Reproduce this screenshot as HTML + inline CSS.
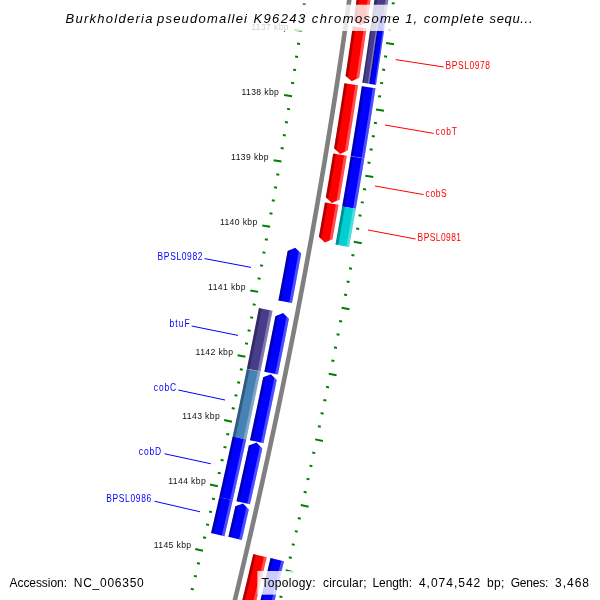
<!DOCTYPE html>
<html><head><meta charset="utf-8"><title>Burkholderia pseudomallei K96243 chromosome 1</title>
<style>html,body{margin:0;padding:0;background:#fff;overflow:hidden}svg{display:block}</style></head>
<body><svg width="600" height="600" viewBox="0 0 600 600">
<rect width="600" height="600" fill="#fff"/>
<polyline points="350.54,-9.26 350.08,-5.96 349.63,-2.66 349.17,0.64 348.71,3.94 348.25,7.24 347.78,10.54 347.32,13.84 346.85,17.14 346.38,20.44 345.91,23.74 345.43,27.04 344.96,30.33 344.48,33.63 344.00,36.93 343.52,40.23 343.04,43.53 342.56,46.82 342.07,50.12 341.58,53.42 341.09,56.71 340.60,60.01 340.11,63.30 339.62,66.60 339.12,69.90 338.62,73.19 338.12,76.49 337.62,79.78 337.11,83.07 336.61,86.37 336.10,89.66 335.59,92.96 335.08,96.25 334.57,99.54 334.05,102.83 333.54,106.13 333.02,109.42 332.50,112.71 331.98,116.00 331.45,119.29 330.93,122.58 330.40,125.87 329.87,129.16 329.34,132.45 328.81,135.74 328.28,139.03 327.74,142.32 327.20,145.61 326.66,148.90 326.12,152.19 325.58,155.48 325.03,158.76 324.48,162.05 323.94,165.34 323.39,168.63 322.83,171.91 322.28,175.20 321.72,178.48 321.17,181.77 320.61,185.05 320.04,188.34 319.48,191.62 318.92,194.91 318.35,198.19 317.78,201.48 317.21,204.76 316.64,208.04 316.07,211.33 315.49,214.61 314.91,217.89 314.33,221.17 313.75,224.45 313.17,227.73 312.58,231.01 312.00,234.30 311.41,237.58 310.82,240.86 310.23,244.14 309.63,247.41 309.04,250.69 308.44,253.97 307.84,257.25 307.24,260.53 306.64,263.81 306.04,267.08 305.43,270.36 304.82,273.64 304.21,276.91 303.60,280.19 302.99,283.46 302.37,286.74 301.76,290.01 301.14,293.29 300.52,296.56 299.89,299.84 299.27,303.11 298.64,306.38 298.02,309.66 297.39,312.93 296.76,316.20 296.12,319.47 295.49,322.75 294.85,326.02 294.21,329.29 293.57,332.56 292.93,335.83 292.29,339.10 291.64,342.37 291.00,345.64 290.35,348.91 289.70,352.17 289.04,355.44 288.39,358.71 287.73,361.98 287.08,365.24 286.42,368.51 285.75,371.78 285.09,375.04 284.43,378.31 283.76,381.57 283.09,384.84 282.42,388.10 281.75,391.37 281.07,394.63 280.40,397.89 279.72,401.16 279.04,404.42 278.36,407.68 277.68,410.94 276.99,414.20 276.31,417.47 275.62,420.73 274.93,423.99 274.24,427.25 273.54,430.51 272.85,433.76 272.15,437.02 271.45,440.28 270.75,443.54 270.05,446.80 269.34,450.06 268.64,453.31 267.93,456.57 267.22,459.82 266.51,463.08 265.80,466.34 265.08,469.59 264.36,472.85 263.65,476.10 262.93,479.35 262.20,482.61 261.48,485.86 260.75,489.11 260.03,492.36 259.30,495.62 258.57,498.87 257.83,502.12 257.10,505.37 256.36,508.62 255.63,511.87 254.89,515.12 254.14,518.37 253.40,521.62 252.66,524.86 251.91,528.11 251.16,531.36 250.41,534.61 249.66,537.85 248.90,541.10 248.15,544.34 247.39,547.59 246.63,550.83 245.87,554.08 245.11,557.32 244.34,560.57 243.58,563.81 242.81,567.05 242.04,570.30 241.27,573.54 240.49,576.78 239.72,580.02 238.94,583.26 238.16,586.50 237.38,589.74 236.60,592.98 235.81,596.22 235.03,599.46 234.24,602.70 233.45,605.93 232.66,609.17 231.87,612.41 231.07,615.64 230.28,618.88" fill="none" stroke="#808080" stroke-width="4.6"/>
<polygon points="357.67,-8.28 357.18,-4.74 356.69,-1.19 356.20,2.35 355.70,5.89 355.21,9.44 354.71,12.98 354.21,16.52 353.70,20.07 359.88,25.60 367.37,22.01 367.87,18.46 368.37,14.91 368.87,11.36 369.37,7.81 369.87,4.25 370.36,0.70 370.85,-2.85 371.34,-6.40" fill="#ff0000" />
<polygon points="357.67,-8.28 357.18,-4.74 356.69,-1.19 356.20,2.35 355.70,5.89 355.21,9.44 354.71,12.98 354.21,16.52 353.70,20.07 356.18,22.28 356.65,18.93 357.13,15.57 357.60,12.22 358.07,8.87 358.54,5.51 359.01,2.16 359.48,-1.20 359.94,-4.55 360.41,-7.91" fill="#000" fill-opacity="0.3"/>
<polygon points="368.61,-6.78 368.15,-3.42 367.68,-0.06 367.21,3.30 366.75,6.66 366.27,10.02 365.80,13.38 365.33,16.73 364.85,20.09 364.37,23.45 367.37,22.01 367.87,18.46 368.37,14.91 368.87,11.36 369.37,7.81 369.87,4.25 370.36,0.70 370.85,-2.85 371.34,-6.40" fill="#fff" fill-opacity="0.3"/>
<polygon points="352.83,26.21 352.35,29.51 351.88,32.82 351.40,36.12 350.92,39.42 350.44,42.72 349.95,46.02 349.47,49.32 348.98,52.62 348.49,55.92 348.00,59.22 347.51,62.52 347.01,65.82 346.52,69.12 346.02,72.42 345.52,75.72 351.65,81.31 359.16,77.79 359.66,74.49 360.16,71.18 360.66,67.87 361.16,64.56 361.65,61.26 362.14,57.95 362.63,54.64 363.12,51.33 363.61,48.03 364.09,44.72 364.57,41.41 365.05,38.10 365.53,34.79 366.01,31.48 366.49,28.17" fill="#ff0000" />
<polygon points="352.83,26.21 352.35,29.51 351.88,32.82 351.40,36.12 350.92,39.42 350.44,42.72 349.95,46.02 349.47,49.32 348.98,52.62 348.49,55.92 348.00,59.22 347.51,62.52 347.01,65.82 346.52,69.12 346.02,72.42 345.52,75.72 347.97,77.96 348.49,74.54 349.01,71.11 349.52,67.69 350.04,64.27 350.55,60.85 351.06,57.42 351.57,54.00 352.07,50.58 352.58,47.15 353.08,43.73 353.58,40.30 354.08,36.88 354.57,33.45 355.07,30.03 355.56,26.60" fill="#000" fill-opacity="0.3"/>
<polygon points="363.75,27.78 363.26,31.21 362.77,34.64 362.27,38.07 361.77,41.50 361.27,44.93 360.77,48.35 360.26,51.78 359.76,55.21 359.25,58.64 358.74,62.07 358.23,65.49 357.71,68.92 357.20,72.35 356.68,75.78 356.16,79.20 359.16,77.79 359.66,74.49 360.16,71.18 360.66,67.87 361.16,64.56 361.65,61.26 362.14,57.95 362.63,54.64 363.12,51.33 363.61,48.03 364.09,44.72 364.57,41.41 365.05,38.10 365.53,34.79 366.01,31.48 366.49,28.17" fill="#fff" fill-opacity="0.3"/>
<polygon points="344.37,83.24 343.85,86.67 343.32,90.10 342.79,93.53 342.26,96.96 341.72,100.39 341.19,103.82 340.65,107.24 340.11,110.67 339.57,114.10 339.03,117.53 338.48,120.95 337.93,124.38 337.38,127.81 336.83,131.23 336.28,134.66 335.72,138.08 335.17,141.51 334.61,144.93 334.05,148.36 340.11,154.02 347.67,150.59 348.23,147.16 348.79,143.73 349.35,140.29 349.90,136.86 350.46,133.43 351.01,129.99 351.56,126.56 352.11,123.13 352.66,119.69 353.20,116.26 353.74,112.82 354.28,109.39 354.82,105.95 355.36,102.51 355.89,99.08 356.43,95.64 356.96,92.20 357.49,88.77 358.01,85.33" fill="#ff0000" />
<polygon points="344.37,83.24 343.85,86.67 343.32,90.10 342.79,93.53 342.26,96.96 341.72,100.39 341.19,103.82 340.65,107.24 340.11,110.67 339.57,114.10 339.03,117.53 338.48,120.95 337.93,124.38 337.38,127.81 336.83,131.23 336.28,134.66 335.72,138.08 335.17,141.51 334.61,144.93 334.05,148.36 336.47,150.62 337.02,147.28 337.57,143.93 338.11,140.58 338.66,137.24 339.20,133.89 339.74,130.54 340.28,127.20 340.81,123.85 341.35,120.50 341.88,117.15 342.41,113.81 342.94,110.46 343.47,107.11 343.99,103.76 344.51,100.41 345.03,97.06 345.55,93.71 346.07,90.36 346.59,87.01 347.10,83.66" fill="#000" fill-opacity="0.3"/>
<polygon points="355.29,84.91 354.77,88.27 354.25,91.62 353.74,94.98 353.22,98.33 352.69,101.69 352.17,105.04 351.65,108.39 351.12,111.75 350.59,115.10 350.06,118.45 349.52,121.81 348.99,125.16 348.45,128.51 347.91,131.86 347.37,135.21 346.83,138.56 346.29,141.91 345.74,145.26 345.19,148.61 344.64,151.96 347.67,150.59 348.23,147.16 348.79,143.73 349.35,140.29 349.90,136.86 350.46,133.43 351.01,129.99 351.56,126.56 352.11,123.13 352.66,119.69 353.20,116.26 353.74,112.82 354.28,109.39 354.82,105.95 355.36,102.51 355.89,99.08 356.43,95.64 356.96,92.20 357.49,88.77 358.01,85.33" fill="#fff" fill-opacity="0.3"/>
<polygon points="333.19,153.56 332.63,156.93 332.08,160.29 331.52,163.66 330.95,167.03 330.39,170.39 329.82,173.76 329.26,177.13 328.69,180.49 328.11,183.86 327.54,187.22 326.96,190.59 326.39,193.95 325.81,197.31 331.82,203.03 339.41,199.66 339.99,196.29 340.57,192.92 341.14,189.54 341.72,186.17 342.29,182.80 342.86,179.43 343.43,176.05 344.00,172.68 344.56,169.30 345.13,165.93 345.69,162.55 346.25,159.18 346.81,155.80" fill="#ff0000" />
<polygon points="333.19,153.56 332.63,156.93 332.08,160.29 331.52,163.66 330.95,167.03 330.39,170.39 329.82,173.76 329.26,177.13 328.69,180.49 328.11,183.86 327.54,187.22 326.96,190.59 326.39,193.95 325.81,197.31 328.21,199.60 328.82,196.09 329.42,192.59 330.02,189.08 330.62,185.58 331.22,182.07 331.81,178.56 332.40,175.06 332.99,171.55 333.58,168.04 334.17,164.53 334.75,161.02 335.33,157.52 335.91,154.01" fill="#000" fill-opacity="0.3"/>
<polygon points="344.08,155.36 343.50,158.87 342.92,162.38 342.34,165.90 341.75,169.41 341.16,172.92 340.57,176.43 339.98,179.95 339.38,183.46 338.78,186.97 338.18,190.48 337.58,193.99 336.98,197.50 336.37,201.01 339.41,199.66 339.99,196.29 340.57,192.92 341.14,189.54 341.72,186.17 342.29,182.80 342.86,179.43 343.43,176.05 344.00,172.68 344.56,169.30 345.13,165.93 345.69,162.55 346.25,159.18 346.81,155.80" fill="#fff" fill-opacity="0.3"/>
<polygon points="324.93,202.38 324.33,205.82 323.73,209.27 323.13,212.71 322.53,216.16 321.92,219.60 321.31,223.04 320.70,226.49 320.09,229.93 319.48,233.37 318.86,236.81 324.84,242.57 332.45,239.25 333.06,235.80 333.68,232.35 334.29,228.90 334.90,225.45 335.51,221.99 336.12,218.54 336.73,215.09 337.33,211.64 337.93,208.19 338.53,204.73" fill="#ff0000" />
<polygon points="324.93,202.38 324.33,205.82 323.73,209.27 323.13,212.71 322.53,216.16 321.92,219.60 321.31,223.04 320.70,226.49 320.09,229.93 319.48,233.37 318.86,236.81 321.25,239.11 321.84,235.82 322.43,232.52 323.02,229.23 323.61,225.93 324.19,222.63 324.77,219.34 325.35,216.04 325.93,212.74 326.51,209.44 327.08,206.15 327.65,202.85" fill="#000" fill-opacity="0.3"/>
<polygon points="335.81,204.26 335.24,207.57 334.66,210.87 334.08,214.17 333.51,217.47 332.93,220.77 332.34,224.07 331.76,227.38 331.17,230.68 330.58,233.98 329.99,237.28 329.40,240.58 332.45,239.25 333.06,235.80 333.68,232.35 334.29,228.90 334.90,225.45 335.51,221.99 336.12,218.54 336.73,215.09 337.33,211.64 337.93,208.19 338.53,204.73" fill="#fff" fill-opacity="0.3"/>
<polygon points="253.27,554.04 252.51,557.30 251.74,560.57 250.97,563.84 250.19,567.11 249.42,570.37 248.64,573.64 247.86,576.90 247.08,580.17 246.30,583.43 245.52,586.70 244.73,589.96 243.95,593.22 243.16,596.49 242.37,599.75 241.57,603.01 240.78,606.27 239.98,609.53 239.19,612.79 238.39,616.05 237.58,619.31 236.78,622.57 235.98,625.83 235.17,629.09 240.76,635.22 248.56,632.41 249.37,629.14 250.18,625.88 250.98,622.61 251.79,619.34 252.59,616.08 253.39,612.81 254.19,609.54 254.98,606.27 255.78,603.00 256.57,599.73 257.36,596.46 258.15,593.19 258.94,589.92 259.72,586.65 260.51,583.38 261.29,580.11 262.07,576.83 262.85,573.56 263.62,570.29 264.40,567.01 265.17,563.74 265.94,560.46 266.71,557.19" fill="#ff0000" />
<polygon points="253.27,554.04 252.51,557.30 251.74,560.57 250.97,563.84 250.19,567.11 249.42,570.37 248.64,573.64 247.86,576.90 247.08,580.17 246.30,583.43 245.52,586.70 244.73,589.96 243.95,593.22 243.16,596.49 242.37,599.75 241.57,603.01 240.78,606.27 239.98,609.53 239.19,612.79 238.39,616.05 237.58,619.31 236.78,622.57 235.98,625.83 235.17,629.09 237.40,631.54 238.23,628.20 239.06,624.87 239.88,621.53 240.70,618.19 241.52,614.85 242.34,611.51 243.16,608.17 243.97,604.83 244.78,601.49 245.59,598.15 246.40,594.81 247.21,591.46 248.02,588.12 248.82,584.78 249.62,581.43 250.42,578.09 251.22,574.74 252.01,571.40 252.81,568.05 253.60,564.71 254.39,561.36 255.18,558.01 255.96,554.67" fill="#000" fill-opacity="0.3"/>
<polygon points="264.02,556.56 263.24,559.91 262.45,563.26 261.66,566.61 260.86,569.96 260.07,573.31 259.27,576.66 258.47,580.01 257.67,583.36 256.87,586.71 256.07,590.06 255.26,593.40 254.45,596.75 253.64,600.10 252.83,603.44 252.02,606.79 251.20,610.13 250.38,613.48 249.56,616.82 248.74,620.17 247.92,623.51 247.10,626.85 246.27,630.19 245.44,633.54 248.56,632.41 249.37,629.14 250.18,625.88 250.98,622.61 251.79,619.34 252.59,616.08 253.39,612.81 254.19,609.54 254.98,606.27 255.78,603.00 256.57,599.73 257.36,596.46 258.15,593.19 258.94,589.92 259.72,586.65 260.51,583.38 261.29,580.11 262.07,576.83 262.85,573.56 263.62,570.29 264.40,567.01 265.17,563.74 265.94,560.46 266.71,557.19" fill="#fff" fill-opacity="0.3"/>
<polygon points="375.21,-5.87 374.66,-1.89 374.11,2.08 373.55,6.06 373.00,10.04 372.44,14.01 386.10,15.94 386.66,11.95 387.22,7.97 387.78,3.98 388.33,-0.00 388.88,-3.99" fill="#483d8b" />
<polygon points="375.21,-5.87 374.66,-1.89 374.11,2.08 373.55,6.06 373.00,10.04 372.44,14.01 375.17,14.40 375.73,10.42 376.29,6.44 376.84,2.46 377.39,-1.52 377.94,-5.49" fill="#000" fill-opacity="0.3"/>
<polygon points="386.14,-4.37 385.59,-0.38 385.04,3.60 384.49,7.59 383.93,11.57 383.37,15.55 386.10,15.94 386.66,11.95 387.22,7.97 387.78,3.98 388.33,-0.00 388.88,-3.99" fill="#fff" fill-opacity="0.3"/>
<polygon points="372.44,14.01 371.95,17.46 371.46,20.90 370.97,24.34 370.48,27.78 369.99,31.22 369.49,34.66 368.99,38.11 368.49,41.55 367.99,44.99 367.49,48.43 366.98,51.87 366.48,55.31 365.97,58.74 365.45,62.18 364.94,65.62 364.43,69.06 363.91,72.50 363.39,75.94 362.87,79.37 362.34,82.81 369.17,83.85 369.69,80.41 370.21,76.97 370.73,73.53 371.25,70.08 371.76,66.64 372.28,63.20 372.79,59.76 373.30,56.31 373.81,52.87 374.32,49.43 374.82,45.98 375.32,42.54 375.82,39.10 376.32,35.65 376.82,32.21 377.31,28.76 377.80,25.32 378.30,21.87 378.78,18.42 379.27,14.98" fill="#483d8b" />
<polygon points="372.44,14.01 371.95,17.46 371.46,20.90 370.97,24.34 370.48,27.78 369.99,31.22 369.49,34.66 368.99,38.11 368.49,41.55 367.99,44.99 367.49,48.43 366.98,51.87 366.48,55.31 365.97,58.74 365.45,62.18 364.94,65.62 364.43,69.06 363.91,72.50 363.39,75.94 362.87,79.37 362.34,82.81 363.71,83.02 364.23,79.58 364.75,76.14 365.27,72.70 365.79,69.26 366.31,65.83 366.82,62.39 367.33,58.95 367.84,55.51 368.35,52.07 368.85,48.63 369.36,45.19 369.86,41.74 370.36,38.30 370.86,34.86 371.35,31.42 371.85,27.98 372.34,24.54 372.83,21.09 373.32,17.65 373.80,14.21" fill="#000" fill-opacity="0.3"/>
<polygon points="377.90,14.78 377.42,18.23 376.93,21.68 376.44,25.12 375.95,28.56 375.45,32.01 374.96,35.45 374.46,38.90 373.96,42.34 373.45,45.78 372.95,49.23 372.44,52.67 371.94,56.11 371.43,59.55 370.91,63.00 370.40,66.44 369.88,69.88 369.37,73.32 368.85,76.76 368.32,80.20 367.80,83.64 369.17,83.85 369.69,80.41 370.21,76.97 370.73,73.53 371.25,70.08 371.76,66.64 372.28,63.20 372.79,59.76 373.30,56.31 373.81,52.87 374.32,49.43 374.82,45.98 375.32,42.54 375.82,39.10 376.32,35.65 376.82,32.21 377.31,28.76 377.80,25.32 378.30,21.87 378.78,18.42 379.27,14.98" fill="#fff" fill-opacity="0.3"/>
<polygon points="379.27,14.98 378.78,18.42 378.30,21.87 377.80,25.32 377.31,28.76 376.82,32.21 376.32,35.65 375.82,39.10 375.32,42.54 374.82,45.98 374.32,49.43 373.81,52.87 373.30,56.31 372.79,59.76 372.28,63.20 371.76,66.64 371.25,70.08 370.73,73.53 370.21,76.97 369.69,80.41 369.17,83.85 375.99,84.89 376.51,81.45 377.03,78.00 377.55,74.56 378.07,71.11 378.59,67.66 379.10,64.22 379.62,60.77 380.13,57.32 380.64,53.88 381.14,50.43 381.65,46.98 382.15,43.53 382.65,40.09 383.15,36.64 383.65,33.19 384.14,29.74 384.64,26.29 385.13,22.84 385.62,19.39 386.10,15.94" fill="#0000ff" />
<polygon points="379.27,14.98 378.78,18.42 378.30,21.87 377.80,25.32 377.31,28.76 376.82,32.21 376.32,35.65 375.82,39.10 375.32,42.54 374.82,45.98 374.32,49.43 373.81,52.87 373.30,56.31 372.79,59.76 372.28,63.20 371.76,66.64 371.25,70.08 370.73,73.53 370.21,76.97 369.69,80.41 369.17,83.85 370.53,84.06 371.05,80.62 371.58,77.17 372.10,73.73 372.61,70.29 373.13,66.85 373.64,63.40 374.16,59.96 374.67,56.52 375.17,53.07 375.68,49.63 376.19,46.18 376.69,42.74 377.19,39.29 377.69,35.85 378.18,32.40 378.68,28.96 379.17,25.51 379.66,22.06 380.15,18.62 380.64,15.17" fill="#000" fill-opacity="0.3"/>
<polygon points="384.74,15.75 384.25,19.20 383.76,22.65 383.27,26.09 382.78,29.54 382.28,32.99 381.78,36.44 381.29,39.89 380.78,43.33 380.28,46.78 379.78,50.23 379.27,53.68 378.76,57.12 378.25,60.57 377.74,64.01 377.22,67.46 376.71,70.90 376.19,74.35 375.67,77.79 375.15,81.24 374.62,84.68 375.99,84.89 376.51,81.45 377.03,78.00 377.55,74.56 378.07,71.11 378.59,67.66 379.10,64.22 379.62,60.77 380.13,57.32 380.64,53.88 381.14,50.43 381.65,46.98 382.15,43.53 382.65,40.09 383.15,36.64 383.65,33.19 384.14,29.74 384.64,26.29 385.13,22.84 385.62,19.39 386.10,15.94" fill="#fff" fill-opacity="0.3"/>
<polygon points="361.83,86.18 361.32,89.52 360.80,92.85 360.29,96.18 359.77,99.51 359.25,102.84 358.73,106.18 358.21,109.51 357.69,112.84 357.16,116.17 356.63,119.50 356.11,122.83 355.57,126.16 355.04,129.49 354.51,132.81 353.97,136.14 353.43,139.47 352.89,142.80 352.35,146.13 351.80,149.46 351.26,152.78 350.71,156.11 364.33,158.35 364.87,155.02 365.42,151.69 365.97,148.35 366.51,145.02 367.05,141.68 367.59,138.34 368.13,135.01 368.67,131.67 369.20,128.34 369.73,125.00 370.26,121.66 370.79,118.32 371.32,114.99 371.85,111.65 372.37,108.31 372.89,104.97 373.41,101.63 373.93,98.29 374.44,94.95 374.96,91.61 375.47,88.27" fill="#0000ff" />
<polygon points="361.83,86.18 361.32,89.52 360.80,92.85 360.29,96.18 359.77,99.51 359.25,102.84 358.73,106.18 358.21,109.51 357.69,112.84 357.16,116.17 356.63,119.50 356.11,122.83 355.57,126.16 355.04,129.49 354.51,132.81 353.97,136.14 353.43,139.47 352.89,142.80 352.35,146.13 351.80,149.46 351.26,152.78 350.71,156.11 353.43,156.56 353.98,153.23 354.53,149.90 355.07,146.57 355.61,143.24 356.15,139.91 356.69,136.58 357.23,133.25 357.77,129.92 358.30,126.59 358.83,123.26 359.36,119.93 359.89,116.60 360.41,113.27 360.94,109.93 361.46,106.60 361.98,103.27 362.50,99.94 363.02,96.60 363.53,93.27 364.05,89.94 364.56,86.60" fill="#000" fill-opacity="0.3"/>
<polygon points="372.74,87.85 372.23,91.19 371.72,94.53 371.20,97.87 370.68,101.21 370.16,104.54 369.64,107.88 369.12,111.22 368.59,114.56 368.07,117.89 367.54,121.23 367.01,124.56 366.48,127.90 365.94,131.23 365.41,134.57 364.87,137.90 364.33,141.24 363.79,144.57 363.24,147.91 362.70,151.24 362.15,154.57 361.60,157.91 364.33,158.35 364.87,155.02 365.42,151.69 365.97,148.35 366.51,145.02 367.05,141.68 367.59,138.34 368.13,135.01 368.67,131.67 369.20,128.34 369.73,125.00 370.26,121.66 370.79,118.32 371.32,114.99 371.85,111.65 372.37,108.31 372.89,104.97 373.41,101.63 373.93,98.29 374.44,94.95 374.96,91.61 375.47,88.27" fill="#fff" fill-opacity="0.3"/>
<polygon points="350.67,156.37 350.11,159.71 349.56,163.05 349.01,166.38 348.45,169.72 347.89,173.05 347.33,176.39 346.77,179.72 346.20,183.06 345.64,186.39 345.07,189.73 344.50,193.06 343.93,196.39 343.35,199.72 342.78,203.06 342.20,206.39 355.80,208.75 356.38,205.41 356.95,202.07 357.53,198.73 358.10,195.39 358.67,192.05 359.24,188.71 359.81,185.36 360.37,182.02 360.94,178.68 361.50,175.34 362.06,171.99 362.62,168.65 363.17,165.31 363.73,161.96 364.28,158.62" fill="#0000ff" />
<polygon points="350.67,156.37 350.11,159.71 349.56,163.05 349.01,166.38 348.45,169.72 347.89,173.05 347.33,176.39 346.77,179.72 346.20,183.06 345.64,186.39 345.07,189.73 344.50,193.06 343.93,196.39 343.35,199.72 342.78,203.06 342.20,206.39 344.92,206.86 345.50,203.53 346.07,200.19 346.65,196.86 347.22,193.52 347.79,190.19 348.36,186.85 348.92,183.52 349.49,180.18 350.05,176.85 350.61,173.51 351.17,170.17 351.73,166.84 352.28,163.50 352.84,160.16 353.39,156.82" fill="#000" fill-opacity="0.3"/>
<polygon points="361.56,158.17 361.01,161.51 360.45,164.86 359.90,168.20 359.34,171.54 358.78,174.88 358.22,178.22 357.65,181.56 357.09,184.90 356.52,188.24 355.95,191.58 355.38,194.92 354.81,198.26 354.23,201.60 353.66,204.94 353.08,208.28 355.80,208.75 356.38,205.41 356.95,202.07 357.53,198.73 358.10,195.39 358.67,192.05 359.24,188.71 359.81,185.36 360.37,182.02 360.94,178.68 361.50,175.34 362.06,171.99 362.62,168.65 363.17,165.31 363.73,161.96 364.28,158.62" fill="#fff" fill-opacity="0.3"/>
<polygon points="342.20,206.39 341.60,209.87 340.99,213.34 340.38,216.82 339.77,220.29 339.16,223.77 338.55,227.24 337.93,230.72 337.31,234.19 336.69,237.67 336.07,241.14 335.44,244.61 349.03,247.06 349.65,243.58 350.28,240.10 350.90,236.61 351.52,233.13 352.13,229.65 352.75,226.17 353.36,222.68 353.98,219.20 354.58,215.72 355.19,212.23 355.80,208.75" fill="#00ced1" />
<polygon points="342.20,206.39 341.60,209.87 340.99,213.34 340.38,216.82 339.77,220.29 339.16,223.77 338.55,227.24 337.93,230.72 337.31,234.19 336.69,237.67 336.07,241.14 335.44,244.61 338.16,245.10 338.79,241.63 339.41,238.15 340.03,234.68 340.65,231.20 341.26,227.72 341.88,224.25 342.49,220.77 343.10,217.29 343.71,213.82 344.32,210.34 344.92,206.86" fill="#000" fill-opacity="0.3"/>
<polygon points="353.08,208.28 352.47,211.76 351.87,215.24 351.26,218.72 350.65,222.21 350.03,225.69 349.42,229.17 348.80,232.65 348.18,236.13 347.56,239.61 346.94,243.09 346.31,246.57 349.03,247.06 349.65,243.58 350.28,240.10 350.90,236.61 351.52,233.13 352.13,229.65 352.75,226.17 353.36,222.68 353.98,219.20 354.58,215.72 355.19,212.23 355.80,208.75" fill="#fff" fill-opacity="0.3"/>
<polygon points="270.51,558.08 269.72,561.42 268.94,564.76 268.15,568.10 267.36,571.44 266.56,574.79 265.77,578.13 264.97,581.46 264.18,584.80 263.38,588.14 262.57,591.48 261.77,594.82 260.96,598.16 260.16,601.49 259.35,604.83 258.54,608.16 257.72,611.50 256.91,614.84 256.09,618.17 255.27,621.50 254.45,624.84 267.85,628.14 268.67,624.80 269.49,621.46 270.31,618.11 271.13,614.77 271.94,611.43 272.76,608.09 273.57,604.74 274.38,601.40 275.19,598.05 275.99,594.71 276.79,591.36 277.60,588.02 278.40,584.67 279.19,581.32 279.99,577.97 280.78,574.63 281.58,571.28 282.37,567.93 283.16,564.58 283.94,561.23" fill="#0000ff" />
<polygon points="270.51,558.08 269.72,561.42 268.94,564.76 268.15,568.10 267.36,571.44 266.56,574.79 265.77,578.13 264.97,581.46 264.18,584.80 263.38,588.14 262.57,591.48 261.77,594.82 260.96,598.16 260.16,601.49 259.35,604.83 258.54,608.16 257.72,611.50 256.91,614.84 256.09,618.17 255.27,621.50 254.45,624.84 257.13,625.50 257.95,622.16 258.77,618.83 259.59,615.49 260.40,612.15 261.22,608.82 262.03,605.48 262.84,602.14 263.65,598.80 264.45,595.47 265.26,592.13 266.06,588.79 266.86,585.45 267.66,582.11 268.45,578.76 269.25,575.42 270.04,572.08 270.83,568.74 271.62,565.40 272.41,562.05 273.19,558.71" fill="#000" fill-opacity="0.3"/>
<polygon points="281.26,560.60 280.47,563.95 279.68,567.30 278.89,570.64 278.10,573.99 277.30,577.34 276.51,580.68 275.71,584.03 274.91,587.37 274.11,590.72 273.31,594.06 272.50,597.41 271.70,600.75 270.89,604.09 270.08,607.43 269.26,610.78 268.45,614.12 267.63,617.46 266.81,620.80 265.99,624.14 265.17,627.48 267.85,628.14 268.67,624.80 269.49,621.46 270.31,618.11 271.13,614.77 271.94,611.43 272.76,608.09 273.57,604.74 274.38,601.40 275.19,598.05 275.99,594.71 276.79,591.36 277.60,588.02 278.40,584.67 279.19,581.32 279.99,577.97 280.78,574.63 281.58,571.28 282.37,567.93 283.16,564.58 283.94,561.23" fill="#fff" fill-opacity="0.3"/>
<polygon points="278.39,300.48 279.02,297.18 279.65,293.88 280.28,290.57 280.90,287.27 281.53,283.97 282.15,280.67 282.77,277.36 283.38,274.06 284.00,270.75 284.61,267.45 285.22,264.14 285.83,260.84 286.44,257.53 287.05,254.23 287.65,250.92 295.26,247.65 301.23,253.40 300.62,256.71 300.01,260.03 299.41,263.34 298.79,266.65 298.18,269.97 297.57,273.28 296.95,276.59 296.33,279.90 295.71,283.21 295.09,286.52 294.46,289.83 293.84,293.14 293.21,296.45 292.58,299.76 291.95,303.07" fill="#0000ff" />
<polygon points="278.39,300.48 279.02,297.18 279.65,293.88 280.28,290.57 280.90,287.27 281.53,283.97 282.15,280.67 282.77,277.36 283.38,274.06 284.00,270.75 284.61,267.45 285.22,264.14 285.83,260.84 286.44,257.53 287.05,254.23 287.65,250.92 290.70,249.61 290.07,253.04 289.44,256.47 288.81,259.90 288.18,263.32 287.55,266.75 286.91,270.18 286.28,273.60 285.64,277.03 284.99,280.45 284.35,283.88 283.71,287.30 283.06,290.73 282.41,294.15 281.76,297.57 281.10,301.00" fill="#000" fill-opacity="0.3"/>
<polygon points="289.24,302.55 289.89,299.12 290.54,295.70 291.19,292.27 291.84,288.84 292.49,285.41 293.13,281.98 293.77,278.55 294.42,275.12 295.05,271.69 295.69,268.26 296.32,264.83 296.96,261.40 297.59,257.96 298.22,254.53 298.84,251.10 301.23,253.40 300.62,256.71 300.01,260.03 299.41,263.34 298.79,266.65 298.18,269.97 297.57,273.28 296.95,276.59 296.33,279.90 295.71,283.21 295.09,286.52 294.46,289.83 293.84,293.14 293.21,296.45 292.58,299.76 291.95,303.07" fill="#fff" fill-opacity="0.3"/>
<polygon points="264.34,371.70 265.00,368.44 265.67,365.17 266.33,361.90 266.98,358.64 267.64,355.37 268.30,352.10 268.95,348.83 269.60,345.57 270.25,342.30 270.90,339.03 271.54,335.76 272.19,332.49 272.83,329.22 273.47,325.95 274.11,322.68 274.75,319.40 275.38,316.13 283.03,312.94 288.93,318.76 288.29,322.04 287.65,325.32 287.01,328.59 286.37,331.87 285.73,335.15 285.08,338.43 284.44,341.70 283.79,344.98 283.14,348.26 282.48,351.53 281.83,354.81 281.17,358.08 280.51,361.36 279.85,364.63 279.19,367.91 278.53,371.18 277.86,374.46" fill="#0000ff" />
<polygon points="264.34,371.70 265.00,368.44 265.67,365.17 266.33,361.90 266.98,358.64 267.64,355.37 268.30,352.10 268.95,348.83 269.60,345.57 270.25,342.30 270.90,339.03 271.54,335.76 272.19,332.49 272.83,329.22 273.47,325.95 274.11,322.68 274.75,319.40 275.38,316.13 278.44,314.86 277.78,318.24 277.13,321.62 276.47,324.99 275.81,328.37 275.15,331.75 274.48,335.13 273.81,338.50 273.15,341.88 272.48,345.26 271.80,348.63 271.13,352.01 270.45,355.38 269.78,358.76 269.10,362.13 268.41,365.51 267.73,368.88 267.04,372.25" fill="#000" fill-opacity="0.3"/>
<polygon points="275.16,373.91 275.84,370.53 276.53,367.15 277.21,363.77 277.89,360.39 278.57,357.01 279.25,353.63 279.92,350.25 280.60,346.87 281.27,343.49 281.94,340.11 282.60,336.73 283.27,333.35 283.93,329.96 284.60,326.58 285.25,323.20 285.91,319.81 286.57,316.43 288.93,318.76 288.29,322.04 287.65,325.32 287.01,328.59 286.37,331.87 285.73,335.15 285.08,338.43 284.44,341.70 283.79,344.98 283.14,348.26 282.48,351.53 281.83,354.81 281.17,358.08 280.51,361.36 279.85,364.63 279.19,367.91 278.53,371.18 277.86,374.46" fill="#fff" fill-opacity="0.3"/>
<polygon points="249.98,440.22 250.70,436.91 251.41,433.61 252.11,430.30 252.82,426.99 253.53,423.68 254.23,420.37 254.93,417.06 255.63,413.75 256.33,410.43 257.02,407.12 257.72,403.81 258.41,400.50 259.10,397.19 259.79,393.87 260.47,390.56 261.16,387.24 261.84,383.93 262.52,380.62 263.20,377.30 270.88,374.19 276.72,380.07 276.04,383.39 275.36,386.71 274.67,390.03 273.99,393.35 273.30,396.67 272.61,400.00 271.92,403.32 271.22,406.64 270.53,409.96 269.83,413.28 269.13,416.59 268.43,419.91 267.73,423.23 267.02,426.55 266.32,429.87 265.61,433.18 264.90,436.50 264.19,439.82 263.47,443.13" fill="#0000ff" />
<polygon points="249.98,440.22 250.70,436.91 251.41,433.61 252.11,430.30 252.82,426.99 253.53,423.68 254.23,420.37 254.93,417.06 255.63,413.75 256.33,410.43 257.02,407.12 257.72,403.81 258.41,400.50 259.10,397.19 259.79,393.87 260.47,390.56 261.16,387.24 261.84,383.93 262.52,380.62 263.20,377.30 266.27,376.06 265.57,379.47 264.87,382.88 264.17,386.29 263.47,389.70 262.76,393.11 262.05,396.52 261.35,399.93 260.63,403.34 259.92,406.74 259.21,410.15 258.49,413.56 257.77,416.97 257.05,420.37 256.33,423.78 255.60,427.19 254.87,430.59 254.14,434.00 253.41,437.40 252.68,440.80" fill="#000" fill-opacity="0.3"/>
<polygon points="260.78,442.55 261.51,439.14 262.24,435.73 262.97,432.32 263.70,428.91 264.42,425.50 265.15,422.09 265.87,418.68 266.59,415.27 267.31,411.86 268.02,408.44 268.74,405.03 269.45,401.62 270.16,398.20 270.87,394.79 271.58,391.37 272.28,387.96 272.98,384.54 273.68,381.13 274.38,377.71 276.72,380.07 276.04,383.39 275.36,386.71 274.67,390.03 273.99,393.35 273.30,396.67 272.61,400.00 271.92,403.32 271.22,406.64 270.53,409.96 269.83,413.28 269.13,416.59 268.43,419.91 267.73,423.23 267.02,426.55 266.32,429.87 265.61,433.18 264.90,436.50 264.19,439.82 263.47,443.13" fill="#fff" fill-opacity="0.3"/>
<polygon points="236.50,501.25 237.24,497.98 237.98,494.71 238.71,491.44 239.45,488.17 240.18,484.90 240.91,481.63 241.64,478.36 242.36,475.08 243.09,471.81 243.81,468.54 244.53,465.26 245.25,461.99 245.97,458.71 246.68,455.44 247.40,452.16 248.11,448.89 248.82,445.61 256.53,442.59 262.31,448.53 261.59,451.82 260.88,455.10 260.17,458.38 259.45,461.66 258.73,464.95 258.01,468.23 257.29,471.51 256.56,474.79 255.84,478.07 255.11,481.35 254.38,484.63 253.65,487.91 252.91,491.19 252.18,494.47 251.44,497.74 250.70,501.02 249.96,504.30" fill="#0000ff" />
<polygon points="236.50,501.25 237.24,497.98 237.98,494.71 238.71,491.44 239.45,488.17 240.18,484.90 240.91,481.63 241.64,478.36 242.36,475.08 243.09,471.81 243.81,468.54 244.53,465.26 245.25,461.99 245.97,458.71 246.68,455.44 247.40,452.16 248.11,448.89 248.82,445.61 251.90,444.40 251.17,447.79 250.44,451.17 249.70,454.55 248.96,457.93 248.22,461.32 247.48,464.70 246.74,468.08 245.99,471.46 245.24,474.84 244.49,478.22 243.74,481.60 242.99,484.98 242.23,488.35 241.48,491.73 240.72,495.11 239.95,498.49 239.19,501.86" fill="#000" fill-opacity="0.3"/>
<polygon points="247.27,503.69 248.03,500.31 248.79,496.93 249.55,493.55 250.31,490.16 251.07,486.78 251.82,483.40 252.58,480.01 253.33,476.63 254.08,473.24 254.82,469.86 255.57,466.47 256.31,463.09 257.05,459.70 257.79,456.32 258.53,452.93 259.26,449.54 260.00,446.15 262.31,448.53 261.59,451.82 260.88,455.10 260.17,458.38 259.45,461.66 258.73,464.95 258.01,468.23 257.29,471.51 256.56,474.79 255.84,478.07 255.11,481.35 254.38,484.63 253.65,487.91 252.91,491.19 252.18,494.47 251.44,497.74 250.70,501.02 249.96,504.30" fill="#fff" fill-opacity="0.3"/>
<polygon points="228.34,536.79 229.13,533.42 229.91,530.04 230.69,526.66 231.47,523.28 232.25,519.90 233.02,516.52 233.80,513.13 234.57,509.75 235.34,506.37 243.08,503.43 248.80,509.43 248.02,512.82 247.25,516.21 246.48,519.60 245.70,522.99 244.92,526.37 244.14,529.76 243.36,533.15 242.57,536.54 241.78,539.92" fill="#0000ff" />
<polygon points="228.34,536.79 229.13,533.42 229.91,530.04 230.69,526.66 231.47,523.28 232.25,519.90 233.02,516.52 233.80,513.13 234.57,509.75 235.34,506.37 238.44,505.19 237.62,508.78 236.81,512.36 235.99,515.94 235.17,519.52 234.34,523.10 233.52,526.68 232.69,530.26 231.86,533.84 231.03,537.42" fill="#000" fill-opacity="0.3"/>
<polygon points="239.10,539.30 239.93,535.71 240.76,532.13 241.59,528.54 242.41,524.96 243.24,521.37 244.06,517.79 244.88,514.20 245.70,510.61 246.51,507.03 248.80,509.43 248.02,512.82 247.25,516.21 246.48,519.60 245.70,522.99 244.92,526.37 244.14,529.76 243.36,533.15 242.57,536.54 241.78,539.92" fill="#fff" fill-opacity="0.3"/>
<polygon points="258.92,308.02 258.27,311.39 257.62,314.76 256.96,318.13 256.30,321.50 255.65,324.87 254.98,328.23 254.32,331.60 253.66,334.97 252.99,338.34 252.32,341.70 251.65,345.07 250.98,348.44 250.30,351.80 249.63,355.17 248.95,358.53 248.27,361.90 247.59,365.26 246.90,368.63 260.43,371.38 261.11,368.01 261.79,364.64 262.48,361.26 263.16,357.89 263.83,354.52 264.51,351.15 265.18,347.77 265.86,344.40 266.53,341.02 267.19,337.65 267.86,334.27 268.53,330.90 269.19,327.52 269.85,324.14 270.51,320.77 271.16,317.39 271.82,314.01 272.47,310.63" fill="#483d8b" />
<polygon points="258.92,308.02 258.27,311.39 257.62,314.76 256.96,318.13 256.30,321.50 255.65,324.87 254.98,328.23 254.32,331.60 253.66,334.97 252.99,338.34 252.32,341.70 251.65,345.07 250.98,348.44 250.30,351.80 249.63,355.17 248.95,358.53 248.27,361.90 247.59,365.26 246.90,368.63 249.61,369.18 250.29,365.81 250.97,362.45 251.65,359.08 252.33,355.71 253.01,352.35 253.68,348.98 254.36,345.61 255.03,342.24 255.70,338.87 256.36,335.51 257.03,332.14 257.69,328.77 258.35,325.40 259.01,322.03 259.67,318.66 260.33,315.28 260.98,311.91 261.63,308.54" fill="#000" fill-opacity="0.3"/>
<polygon points="269.76,310.11 269.11,313.49 268.46,316.86 267.80,320.24 267.14,323.61 266.48,326.99 265.82,330.36 265.15,333.74 264.49,337.11 263.82,340.49 263.15,343.86 262.48,347.23 261.80,350.60 261.13,353.98 260.45,357.35 259.77,360.72 259.09,364.09 258.41,367.46 257.72,370.83 260.43,371.38 261.11,368.01 261.79,364.64 262.48,361.26 263.16,357.89 263.83,354.52 264.51,351.15 265.18,347.77 265.86,344.40 266.53,341.02 267.19,337.65 267.86,334.27 268.53,330.90 269.19,327.52 269.85,324.14 270.51,320.77 271.16,317.39 271.82,314.01 272.47,310.63" fill="#fff" fill-opacity="0.3"/>
<polygon points="246.85,368.89 246.16,372.27 245.47,375.65 244.77,379.04 244.08,382.42 243.38,385.80 242.68,389.19 241.98,392.57 241.28,395.95 240.57,399.33 239.86,402.71 239.15,406.09 238.44,409.47 237.73,412.85 237.01,416.23 236.30,419.61 235.58,422.99 234.86,426.36 234.13,429.74 233.41,433.12 232.68,436.49 246.17,439.40 246.90,436.02 247.63,432.63 248.35,429.25 249.07,425.86 249.79,422.48 250.51,419.09 251.23,415.70 251.94,412.32 252.66,408.93 253.37,405.54 254.08,402.15 254.78,398.76 255.49,395.38 256.19,391.99 256.89,388.60 257.59,385.21 258.29,381.82 258.99,378.42 259.68,375.03 260.37,371.64" fill="#4682b4" />
<polygon points="246.85,368.89 246.16,372.27 245.47,375.65 244.77,379.04 244.08,382.42 243.38,385.80 242.68,389.19 241.98,392.57 241.28,395.95 240.57,399.33 239.86,402.71 239.15,406.09 238.44,409.47 237.73,412.85 237.01,416.23 236.30,419.61 235.58,422.99 234.86,426.36 234.13,429.74 233.41,433.12 232.68,436.49 235.38,437.08 236.11,433.70 236.83,430.32 237.55,426.94 238.28,423.56 239.00,420.18 239.71,416.80 240.43,413.42 241.14,410.04 241.85,406.66 242.56,403.28 243.27,399.89 243.98,396.51 244.68,393.13 245.38,389.75 246.08,386.36 246.78,382.98 247.48,379.59 248.17,376.21 248.86,372.82 249.55,369.44" fill="#000" fill-opacity="0.3"/>
<polygon points="257.67,371.09 256.98,374.48 256.28,377.87 255.59,381.26 254.89,384.65 254.19,388.04 253.49,391.43 252.79,394.81 252.08,398.20 251.38,401.59 250.67,404.98 249.96,408.36 249.24,411.75 248.53,415.13 247.81,418.52 247.09,421.90 246.37,425.29 245.65,428.67 244.93,432.05 244.20,435.44 243.47,438.82 246.17,439.40 246.90,436.02 247.63,432.63 248.35,429.25 249.07,425.86 249.79,422.48 250.51,419.09 251.23,415.70 251.94,412.32 252.66,408.93 253.37,405.54 254.08,402.15 254.78,398.76 255.49,395.38 256.19,391.99 256.89,388.60 257.59,385.21 258.29,381.82 258.99,378.42 259.68,375.03 260.37,371.64" fill="#fff" fill-opacity="0.3"/>
<polygon points="232.68,436.49 231.95,439.87 231.22,443.24 230.49,446.62 229.75,449.99 229.02,453.37 228.28,456.74 227.54,460.11 226.80,463.48 226.05,466.86 225.31,470.23 224.56,473.60 223.81,476.97 223.06,480.34 222.31,483.71 221.55,487.08 220.79,490.45 220.03,493.82 219.27,497.18 232.73,500.23 233.50,496.85 234.26,493.48 235.02,490.10 235.77,486.73 236.53,483.35 237.28,479.97 238.03,476.59 238.78,473.21 239.53,469.83 240.28,466.45 241.02,463.07 241.76,459.69 242.50,456.31 243.24,452.93 243.97,449.55 244.71,446.17 245.44,442.78 246.17,439.40" fill="#0000ff" />
<polygon points="232.68,436.49 231.95,439.87 231.22,443.24 230.49,446.62 229.75,449.99 229.02,453.37 228.28,456.74 227.54,460.11 226.80,463.48 226.05,466.86 225.31,470.23 224.56,473.60 223.81,476.97 223.06,480.34 222.31,483.71 221.55,487.08 220.79,490.45 220.03,493.82 219.27,497.18 221.96,497.79 222.73,494.42 223.49,491.05 224.24,487.68 225.00,484.31 225.75,480.94 226.51,477.57 227.26,474.20 228.00,470.82 228.75,467.45 229.49,464.08 230.24,460.70 230.98,457.33 231.72,453.96 232.45,450.58 233.19,447.20 233.92,443.83 234.65,440.45 235.38,437.08" fill="#000" fill-opacity="0.3"/>
<polygon points="243.47,438.82 242.74,442.20 242.01,445.58 241.28,448.96 240.54,452.34 239.80,455.72 239.06,459.10 238.32,462.48 237.58,465.86 236.83,469.24 236.09,472.62 235.34,475.99 234.59,479.37 233.83,482.75 233.08,486.12 232.32,489.50 231.56,492.87 230.80,496.25 230.04,499.62 232.73,500.23 233.50,496.85 234.26,493.48 235.02,490.10 235.77,486.73 236.53,483.35 237.28,479.97 238.03,476.59 238.78,473.21 239.53,469.83 240.28,466.45 241.02,463.07 241.76,459.69 242.50,456.31 243.24,452.93 243.97,449.55 244.71,446.17 245.44,442.78 246.17,439.40" fill="#fff" fill-opacity="0.3"/>
<polygon points="219.26,497.25 218.52,500.51 217.78,503.76 217.04,507.02 216.30,510.27 215.55,513.52 214.80,516.78 214.06,520.03 213.31,523.29 212.55,526.54 211.80,529.79 211.04,533.04 224.48,536.17 225.24,532.91 226.00,529.65 226.75,526.39 227.50,523.13 228.25,519.87 229.00,516.61 229.75,513.35 230.49,510.08 231.24,506.82 231.98,503.56 232.72,500.30" fill="#0000ff" />
<polygon points="219.26,497.25 218.52,500.51 217.78,503.76 217.04,507.02 216.30,510.27 215.55,513.52 214.80,516.78 214.06,520.03 213.31,523.29 212.55,526.54 211.80,529.79 211.04,533.04 213.73,533.67 214.49,530.41 215.24,527.16 215.99,523.91 216.75,520.65 217.49,517.40 218.24,514.14 218.99,510.89 219.73,507.63 220.47,504.37 221.21,501.12 221.95,497.86" fill="#000" fill-opacity="0.3"/>
<polygon points="230.03,499.69 229.29,502.95 228.55,506.21 227.80,509.47 227.06,512.73 226.31,515.99 225.56,519.25 224.81,522.51 224.06,525.77 223.31,529.03 222.55,532.29 221.80,535.54 224.48,536.17 225.24,532.91 226.00,529.65 226.75,526.39 227.50,523.13 228.25,519.87 229.00,516.61 229.75,513.35 230.49,510.08 231.24,506.82 231.98,503.56 232.72,500.30" fill="#fff" fill-opacity="0.3"/>
<path d="M393.55,-10.12L396.53,-9.72M309.33,-21.62L306.36,-22.02M391.72,3.18L394.70,3.59M307.53,-8.50L304.56,-8.91M389.87,16.47L392.84,16.89M305.70,4.61L302.73,4.19M387.98,29.76L390.95,30.18M303.84,17.71L300.87,17.29M386.06,43.04L393.98,44.20M301.95,30.82L294.03,29.66M384.12,56.33L387.08,56.76M300.03,43.91L297.06,43.48M382.14,69.60L385.11,70.05M298.08,57.01L295.11,56.56M380.14,82.88L383.10,83.33M296.10,70.10L293.14,69.64M378.10,96.14L381.07,96.60M294.10,83.18L291.13,82.72M376.04,109.41L383.95,110.65M292.07,96.26L284.16,95.02M373.95,122.67L376.91,123.14M290.00,109.34L287.04,108.87M371.83,135.92L374.79,136.40M287.91,122.41L284.95,121.93M369.68,149.17L372.64,149.65M285.79,135.47L282.83,134.99M367.51,162.42L370.47,162.91M283.65,148.54L280.69,148.05M365.30,175.66L373.19,176.98M281.47,161.59L273.58,160.27M363.06,188.89L366.02,189.40M279.27,174.65L276.31,174.14M360.80,202.12L363.76,202.63M277.03,187.69L274.08,187.18M358.51,215.35L361.46,215.86M274.77,200.74L271.82,200.22M356.18,228.57L359.14,229.09M272.48,213.77L269.53,213.25M353.83,241.79L361.71,243.19M270.16,226.81L262.29,225.40M351.45,255.00L354.41,255.53M267.82,239.83L264.86,239.30M349.04,268.20L352.00,268.74M265.44,252.86L262.49,252.31M346.61,281.40L349.56,281.95M263.04,265.87L260.09,265.33M344.14,294.59L347.09,295.15M260.60,278.88L257.66,278.33M341.65,307.78L349.50,309.28M258.14,291.89L250.29,290.40M339.12,320.97L342.07,321.53M255.65,304.89L252.71,304.33M336.57,334.15L339.51,334.72M253.14,317.89L250.19,317.31M333.99,347.32L336.93,347.90M250.59,330.88L247.65,330.30M331.38,360.48L334.32,361.07M248.02,343.86L245.07,343.28M328.74,373.65L336.58,375.23M245.41,356.84L237.57,355.26M326.07,386.80L329.01,387.40M242.78,369.82L239.84,369.22M323.37,399.95L326.31,400.56M240.12,382.78L237.19,382.18M320.65,413.09L323.58,413.71M237.44,395.74L234.50,395.13M317.89,426.23L320.83,426.85M234.72,408.70L231.78,408.08M315.11,439.36L322.93,441.03M231.98,421.65L224.15,419.98M312.30,452.49L315.23,453.12M229.20,434.59L226.27,433.96M309.46,465.61L312.39,466.24M226.40,447.53L223.47,446.89M306.59,478.72L309.52,479.36M223.57,460.46L220.64,459.82M303.69,491.83L306.62,492.48M220.72,473.39L217.79,472.74M300.77,504.93L308.57,506.68M217.83,486.31L210.02,484.55M297.81,518.02L300.74,518.68M214.92,499.22L211.99,498.55M294.83,531.11L297.75,531.78M211.97,512.12L209.05,511.45M291.81,544.19L294.74,544.86M209.00,525.02L206.08,524.35M288.77,557.26L291.70,557.94M206.00,537.92L203.08,537.23M285.71,570.33L293.49,572.17M202.98,550.80L195.19,548.97M282.61,583.39L285.53,584.09M199.92,563.68L197.01,562.99M279.48,596.44L282.40,597.15M196.84,576.56L193.92,575.86M276.33,609.49L279.24,610.20M193.73,589.42L190.81,588.72M273.14,622.53L276.06,623.25M190.59,602.28L187.68,601.57M269.93,635.56L277.70,637.49M187.42,615.14L179.66,613.21" stroke="#008000" stroke-width="2" fill="none"/>
<text x="288.6" y="29.9" text-anchor="end" font-size="8.6" textLength="37.4" lengthAdjust="spacing" fill="#111" font-family="Liberation Sans, sans-serif">1137 kbp</text>
<text x="278.9" y="95.1" text-anchor="end" font-size="8.6" textLength="37.4" lengthAdjust="spacing" fill="#111" font-family="Liberation Sans, sans-serif">1138 kbp</text>
<text x="268.5" y="160.2" text-anchor="end" font-size="8.6" textLength="37.4" lengthAdjust="spacing" fill="#111" font-family="Liberation Sans, sans-serif">1139 kbp</text>
<text x="257.3" y="225.2" text-anchor="end" font-size="8.6" textLength="37.4" lengthAdjust="spacing" fill="#111" font-family="Liberation Sans, sans-serif">1140 kbp</text>
<text x="245.5" y="290.0" text-anchor="end" font-size="8.6" textLength="37.4" lengthAdjust="spacing" fill="#111" font-family="Liberation Sans, sans-serif">1141 kbp</text>
<text x="233.0" y="354.8" text-anchor="end" font-size="8.6" textLength="37.4" lengthAdjust="spacing" fill="#111" font-family="Liberation Sans, sans-serif">1142 kbp</text>
<text x="219.7" y="419.3" text-anchor="end" font-size="8.6" textLength="37.4" lengthAdjust="spacing" fill="#111" font-family="Liberation Sans, sans-serif">1143 kbp</text>
<text x="205.7" y="483.8" text-anchor="end" font-size="8.6" textLength="37.4" lengthAdjust="spacing" fill="#111" font-family="Liberation Sans, sans-serif">1144 kbp</text>
<text x="191.1" y="548.0" text-anchor="end" font-size="8.6" textLength="37.4" lengthAdjust="spacing" fill="#111" font-family="Liberation Sans, sans-serif">1145 kbp</text>
<line x1="395.6" y1="59.6" x2="443.6" y2="67" stroke="#ff0000" stroke-width="1"/><text transform="translate(445.6,69) scale(0.77,1)" font-size="11" textLength="57.7" lengthAdjust="spacing" fill="#ff0000" font-family="Liberation Sans, sans-serif">BPSL0978</text>
<line x1="385" y1="125" x2="433.6" y2="133.4" stroke="#ff0000" stroke-width="1"/><text transform="translate(435.6,135) scale(0.77,1)" font-size="11" textLength="27.8" lengthAdjust="spacing" fill="#ff0000" font-family="Liberation Sans, sans-serif">cobT</text>
<line x1="375" y1="186" x2="423.6" y2="194.6" stroke="#ff0000" stroke-width="1"/><text transform="translate(425.6,197) scale(0.77,1)" font-size="11" textLength="27.3" lengthAdjust="spacing" fill="#ff0000" font-family="Liberation Sans, sans-serif">cobS</text>
<line x1="368" y1="230" x2="415.6" y2="239" stroke="#ff0000" stroke-width="1"/><text transform="translate(417.6,241) scale(0.77,1)" font-size="11" textLength="56.4" lengthAdjust="spacing" fill="#ff0000" font-family="Liberation Sans, sans-serif">BPSL0981</text>
<line x1="204.6" y1="258.6" x2="251" y2="267.4" stroke="#0000ff" stroke-width="1"/><text transform="translate(157.6,260) scale(0.77,1)" font-size="11" textLength="58.2" lengthAdjust="spacing" fill="#0000ff" font-family="Liberation Sans, sans-serif">BPSL0982</text>
<line x1="191.6" y1="326" x2="238" y2="335.4" stroke="#0000ff" stroke-width="1"/><text transform="translate(169.6,327) scale(0.77,1)" font-size="11" textLength="26.0" lengthAdjust="spacing" fill="#0000ff" font-family="Liberation Sans, sans-serif">btuF</text>
<line x1="178.25" y1="390" x2="225" y2="400" stroke="#0000ff" stroke-width="1"/><text transform="translate(153.75,391) scale(0.77,1)" font-size="11" textLength="29.2" lengthAdjust="spacing" fill="#0000ff" font-family="Liberation Sans, sans-serif">cobC</text>
<line x1="164.5" y1="453.75" x2="210.75" y2="463.75" stroke="#0000ff" stroke-width="1"/><text transform="translate(138.75,455) scale(0.77,1)" font-size="11" textLength="29.2" lengthAdjust="spacing" fill="#0000ff" font-family="Liberation Sans, sans-serif">cobD</text>
<line x1="154.5" y1="501.25" x2="200" y2="511.75" stroke="#0000ff" stroke-width="1"/><text transform="translate(106.25,502) scale(0.77,1)" font-size="11" textLength="58.4" lengthAdjust="spacing" fill="#0000ff" font-family="Liberation Sans, sans-serif">BPSL0986</text>
<rect x="62" y="4.7" width="474" height="26.3" fill="#fff" fill-opacity="0.8"/>
<rect x="257.4" y="571" width="335.6" height="23.7" fill="#fff" fill-opacity="0.8"/>
<rect x="6" y="571" width="141" height="23.7" fill="#fff" fill-opacity="0.8"/>
<text x="65.5" y="23" font-size="13" textLength="87.0" lengthAdjust="spacing" fill="#000" font-style="italic" font-family="Liberation Sans, sans-serif">Burkholderia</text>
<text x="157" y="23" font-size="13" textLength="90.0" lengthAdjust="spacing" fill="#000" font-style="italic" font-family="Liberation Sans, sans-serif">pseudomallei</text>
<text x="253.4" y="23" font-size="13" textLength="51.8" lengthAdjust="spacing" fill="#000" font-style="italic" font-family="Liberation Sans, sans-serif">K96243</text>
<text x="311.8" y="23" font-size="13" textLength="87.8" lengthAdjust="spacing" fill="#000" font-style="italic" font-family="Liberation Sans, sans-serif">chromosome</text>
<text x="405.2" y="23" font-size="13" textLength="11.8" lengthAdjust="spacing" fill="#000" font-style="italic" font-family="Liberation Sans, sans-serif">1,</text>
<text x="423.75" y="23" font-size="13" textLength="60.0" lengthAdjust="spacing" fill="#000" font-style="italic" font-family="Liberation Sans, sans-serif">complete</text>
<text x="489.5" y="23" font-size="13" textLength="43.0" lengthAdjust="spacing" fill="#000" font-style="italic" font-family="Liberation Sans, sans-serif">sequ...</text>
<text x="9.5" y="587" font-size="12" textLength="57.5" lengthAdjust="spacing" fill="#000"  font-family="Liberation Sans, sans-serif">Accession:</text>
<text x="73.75" y="587" font-size="12" textLength="70.0" lengthAdjust="spacing" fill="#000"  font-family="Liberation Sans, sans-serif">NC_006350</text>
<text x="261.4" y="587.2" font-size="12" textLength="54.1" lengthAdjust="spacing" fill="#000"  font-family="Liberation Sans, sans-serif">Topology:</text>
<text x="323" y="587.2" font-size="12" textLength="43.5" lengthAdjust="spacing" fill="#000"  font-family="Liberation Sans, sans-serif">circular;</text>
<text x="372.5" y="587.2" font-size="12" textLength="39.5" lengthAdjust="spacing" fill="#000"  font-family="Liberation Sans, sans-serif">Length:</text>
<text x="418.9" y="587.2" font-size="12" textLength="61.4" lengthAdjust="spacing" fill="#000"  font-family="Liberation Sans, sans-serif">4,074,542</text>
<text x="487" y="587.2" font-size="12" textLength="17.4" lengthAdjust="spacing" fill="#000"  font-family="Liberation Sans, sans-serif">bp;</text>
<text x="510.7" y="587.2" font-size="12" textLength="37.7" lengthAdjust="spacing" fill="#000"  font-family="Liberation Sans, sans-serif">Genes:</text>
<text x="555" y="587.2" font-size="12" textLength="34.0" lengthAdjust="spacing" fill="#000"  font-family="Liberation Sans, sans-serif">3,468</text>
</svg></body></html>
